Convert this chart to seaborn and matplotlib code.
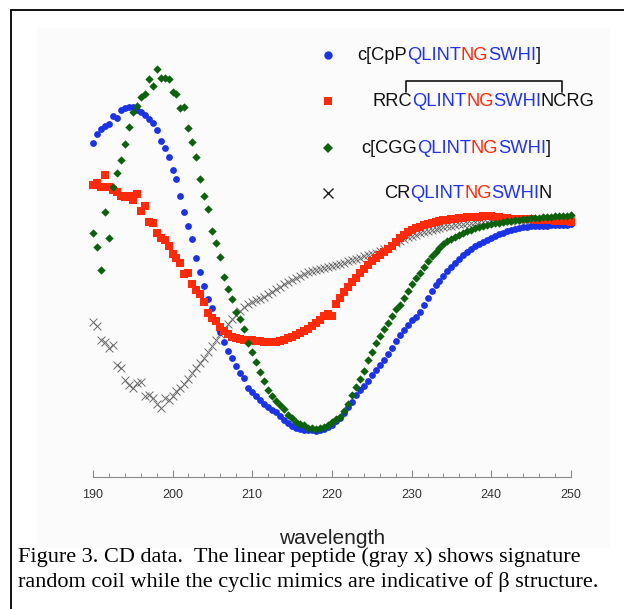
import numpy as np
import pandas as pd
import matplotlib
matplotlib.use("Agg")
import matplotlib.pyplot as plt
from matplotlib.lines import Line2D
from matplotlib.patches import Rectangle
from matplotlib.font_manager import FontProperties
import seaborn as sns

# ---------------- data (CD signal, arbitrary units) ----------------
wavelength = np.arange(190.0, 250.01, 0.5)

cpp_cyclic = [  # c[CpPQLINTNGSWHI]  (blue circles)
    77, 86, 91, 94, 96, 104, 102, 110, 112, 113,
    113, 110, 108, 105, 101, 97, 90, 79, 72, 63,
    50, 41, 24, 8, -6, -19, -38, -52, -66, -79,
    -88, -101, -112, -122, -131, -138, -146, -153, -158, -168,
    -172, -176, -180, -184, -187, -190, -192, -196, -200, -203,
    -206, -208, -209, -210, -210, -210, -211, -210, -209, -207,
    -205, -201, -198, -193, -187, -182, -175, -170, -166, -161,
    -155, -150, -145, -140, -134, -128, -121, -115, -110, -105,
    -100, -97, -92, -85, -78, -71, -65, -61, -56, -51,
    -47, -43, -39, -35, -32, -28.5, -26, -23.5, -21.5, -19.5,
    -18, -16, -14, -12.5, -11, -10, -9, -8, -7, -6.5,
    -6, -6, -6, -5.5, -5.5, -5, -5, -5, -5, -4.5,
    -4]

rrc_disulfide = [  # RRCQLINTNGSWHINCRG  (red squares)
    35, 37, 33, 45, 33, 30, 28, 24, 23, 24,
    20, 26, 9, 14, -2, -3, -13, -18, -20, -26,
    -34, -38, -43, -54, -53, -64, -70, -74, -82, -93,
    -98, -101, -107, -111, -114, -117, -118, -119, -120, -120,
    -120, -121, -121, -122, -122, -122, -122, -121, -120, -118,
    -117, -115, -113, -111, -109, -106, -103, -100, -96, -94,
    -96, -84, -78, -72, -67, -62, -58, -53, -49, -45,
    -41, -38, -35, -32, -29, -26, -22, -18, -15, -12,
    -10, -8, -6.5, -5, -4, -3, -2, -1, 0, 0.5,
    1, 1.5, 2, 2.5, 3, 3, 3.5, 3.5, 4, 4,
    4, 3.5, 3, 2.5, 2, 1.5, 1, 1, 1, 1,
    1, 0.5, 0.5, 0, 0, 0, -0.5, -0.5, -1, -1,
    -1.5]

cgg_cyclic = [  # c[CGGQLINTNGSWHI]  (green diamonds)
    -13, -27, -50, 8, -18, 33, 47, 60, 76, 93,
    108, 114, 123, 126, 141, 134, 151, 142, 142, 141,
    128, 126, 112, 113, 92, 78, 63, 41, 24, 11,
    -11, -23, -37, -57, -69, -79, -92, -99, -109, -123,
    -132, -142, -152, -161, -170, -176, -181, -185, -189, -195,
    -198, -202, -204, -205, -208, -208, -209, -208, -207, -205,
    -202, -199, -197, -191, -184, -175, -167, -159, -151, -140,
    -132, -123, -116, -109, -103, -96, -89, -85, -78, -71,
    -64, -58, -53, -47, -41, -36, -32, -28, -24, -21,
    -19, -17, -15, -13, -11, -9.5, -8, -7, -6, -5,
    -4, -3, -2.5, -2, -1, -0.5, 0, 0.5, 1, 1.5,
    2, 2, 2.5, 3, 3, 3.5, 4, 4, 4.5, 4.5,
    5]

linear_crn = [  # CRQLINTNGSWHIN  (gray x)
    -102, -106, -120, -122, -128, -125, -145, -148, -160, -165,
    -168, -163, -162, -176, -175, -178, -184, -188, -178, -180,
    -176, -171, -168, -164, -159, -153, -148, -143, -138, -132,
    -126, -120, -114, -109, -104, -99, -95, -91, -87, -84,
    -82, -80, -78.5, -76.5, -74, -71.5, -69, -66.5, -64, -62,
    -60, -58, -56, -54, -52, -51, -50, -49, -48, -47,
    -46, -45, -44, -43, -41, -40, -39, -38, -36, -35,
    -34, -33, -31, -29, -28, -26, -23, -21, -19, -17,
    -16, -14.5, -13, -12, -11, -10, -9, -8, -7, -6,
    -5.5, -5, -4, -3.5, -3, -2.5, -2, -2, -1.5, -1.5,
    -1, -1, -1, -0.5, -0.5, -0.5, 0, 0, 0, 0,
    0, 0, 0, 0, 0, 0, 0.5, 0.5, 0.5, 0.5,
    0.5]

x_ticks = [190, 200, 210, 220, 230, 240, 250]
x_label = "wavelength"
caption_lines = [
    "Figure 3. CD data.  The linear peptide (gray x) shows signature",
    "random coil while the cyclic mimics are indicative of \u03b2 structure.",
]

BLUE = "#1a33e6"
RED = "#ff2a0a"
GREEN = "#0b620b"
GRAY = "#6a6a6a"

# ---------------- figure ----------------
sns.set_theme(style="white")
plt.rcParams["font.family"] = ["Liberation Sans", "DejaVu Sans"]

W, H = 624, 609
DPI = 100

LEG_FS = 13.2
leg_prop = FontProperties(family=["Liberation Sans", "DejaVu Sans"], size=LEG_FS)

# measure where the ink of a rendered string actually ends (scratch canvas)
_ink_cache = {}

def ink_right(s):
    """Pixel offset of the right ink edge of string s drawn with ha='left' at x."""
    if s in _ink_cache:
        return _ink_cache[s]
    f2 = plt.figure(figsize=(6, 1), dpi=DPI)
    f2.patch.set_facecolor("white")
    f2.text(20 / 600, 0.5, s, fontproperties=leg_prop, ha="left", va="baseline",
            color="black")
    f2.canvas.draw()
    buf = np.asarray(f2.canvas.buffer_rgba())[:, :, 0].astype(float)
    cols = np.where((buf < 200).any(axis=0))[0]
    plt.close(f2)
    val = (cols.max() + 1 - 20) if len(cols) else 0
    _ink_cache[s] = val
    return val

def ink_left(s):
    f2 = plt.figure(figsize=(6, 1), dpi=DPI)
    f2.patch.set_facecolor("white")
    f2.text(20 / 600, 0.5, s, fontproperties=leg_prop, ha="left", va="baseline",
            color="black")
    f2.canvas.draw()
    buf = np.asarray(f2.canvas.buffer_rgba())[:, :, 0].astype(float)
    cols = np.where((buf < 200).any(axis=0))[0]
    plt.close(f2)
    return (cols.min() - 20) if len(cols) else 0

fig = plt.figure(figsize=(W / DPI, H / DPI), dpi=DPI)
fig.patch.set_facecolor("white")

def fx(px):
    return px / W

def fy(py):
    return 1 - py / H

# faint panel background + frame lines
bg = Rectangle((fx(37), fy(548)), fx(610) - fx(37), fy(28) - fy(548),
               transform=fig.transFigure, facecolor="#fbfbfb",
               edgecolor="none", zorder=-10)
fig.add_artist(bg)
fig.add_artist(Line2D([fx(11), 1.0], [fy(10), fy(10)], color="black", lw=1.3,
                      transform=fig.transFigure, zorder=-5))
fig.add_artist(Line2D([fx(11), fx(11)], [0, fy(10)], color="black", lw=1.3,
                      transform=fig.transFigure, zorder=-5))

ax = fig.add_axes([fx(92.8), fy(477), fx(571) - fx(92.8), fy(40) - fy(477)])
ax.set_facecolor("none")
ax.set_zorder(5)

df = pd.DataFrame({"wavelength": wavelength,
                   "linear": linear_crn, "cpp": cpp_cyclic,
                   "rrc": rrc_disulfide, "cgg": cgg_cyclic})

sns.scatterplot(data=df, x="wavelength", y="linear", marker="x", color=GRAY,
                s=32, linewidth=0.7, ax=ax, clip_on=False, zorder=2)
sns.scatterplot(data=df, x="wavelength", y="cpp", marker="o", color=BLUE,
                s=24, linewidth=0, ax=ax, clip_on=False, zorder=3)
sns.scatterplot(data=df, x="wavelength", y="rrc", marker="s", color=RED,
                s=26, linewidth=0, ax=ax, clip_on=False, zorder=4)
sns.scatterplot(data=df, x="wavelength", y="cgg", marker="D", color=GREEN,
                s=18, linewidth=0, ax=ax, clip_on=False, zorder=5)

ax.set_xlim(190, 250)
ax.set_ylim(-257, 180)
ax.set_yticks([])
ax.set_ylabel("")
ax.set_xlabel("")
ax.set_xticks(x_ticks)
ax.set_xticks(np.arange(190, 251, 2), minor=True)
ax.tick_params(axis="x", which="major", direction="in", length=5, width=0.8,
               color="#8a8a8a", labelsize=9, labelcolor="#333333", pad=9,
               bottom=True)
ax.tick_params(axis="x", which="minor", direction="in", length=3, width=0.7,
               color="#8a8a8a", bottom=True)
for side in ["left", "right", "top"]:
    ax.spines[side].set_visible(False)
ax.spines["bottom"].set_color("#8a8a8a")
ax.spines["bottom"].set_linewidth(0.8)

fig.text(fx(332), fy(538), x_label, ha="center", va="center", fontsize=15,
         color="#222222")

# caption
fig.text(fx(18), fy(557), caption_lines[0], ha="left", va="center", fontsize=16,
         family=["Liberation Serif", "DejaVu Serif"], color="black")
fig.text(fx(18), fy(582), caption_lines[1], ha="left", va="center", fontsize=16,
         family=["Liberation Serif", "DejaVu Serif"], color="black")

# ---------------- legend (rich colored text) ----------------
K = "#111111"
LB = "#2233ee"
LR = "#ff2a0a"

def rich(x_px, y_px, segs):
    acc = ""
    for i, (s, c) in enumerate(segs):
        acc += s
        if i == 0:
            left = x_px
        else:
            # right ink edge of this segment must coincide with that of the prefix
            left = x_px + ink_right(acc) - ink_right(s)
        fig.text(fx(left), fy(y_px), s, color=c, fontproperties=leg_prop,
                 ha="left", va="baseline", zorder=10)

core = [("QLINT", LB), ("NG", LR), ("SWHI", LB)]
BASE_OFF = 5  # baseline below visual centre (px)
rich(357, 55 + BASE_OFF, [("c[CpP", K)] + core + [("]", K)])
rich(372, 101 + BASE_OFF, [("RRC", K)] + core + [("NCRG", K)])
rich(361, 148 + BASE_OFF, [("c[CGG", K)] + core + [("]", K)])
rich(384, 193 + BASE_OFF, [("CR", K)] + core + [("N", K)])

# legend markers
fig.add_artist(Line2D([fx(328)], [fy(55)], marker="o", color=BLUE, markersize=6,
                      markeredgewidth=0, transform=fig.transFigure))
fig.add_artist(Line2D([fx(328)], [fy(101)], marker="s", color=RED, markersize=5.5,
                      markeredgewidth=0, transform=fig.transFigure))
fig.add_artist(Line2D([fx(328)], [fy(148)], marker="D", color=GREEN, markersize=5,
                      markeredgewidth=0, transform=fig.transFigure))
fig.add_artist(Line2D([fx(328)], [fy(193)], marker="x", color="#222222", markersize=7,
                      markeredgewidth=1.0, transform=fig.transFigure))

# disulfide bracket between the two cysteines of RRC...NCRG
c_w = ink_right("C") - ink_left("C")
x1 = fx(372 + ink_right("RRC") - c_w / 2)
x2 = fx(372 + ink_right("RRCQLINTNGSWHINC") - c_w / 2)
ytop = fy(81)
ybot = fy(92)
fig.add_artist(Line2D([x1, x1, x2, x2], [ybot, ytop, ytop, ybot], color="#111111",
                      lw=1.2, transform=fig.transFigure))

fig.savefig("out.png", dpi=DPI, facecolor="white")
